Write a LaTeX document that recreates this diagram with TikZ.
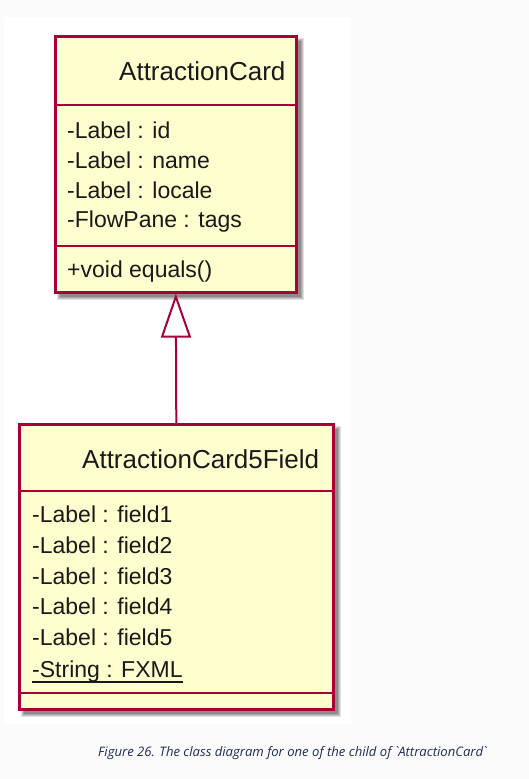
\documentclass[tikz,border=0pt]{standalone}
\usepackage{fontspec}
\setmainfont{Liberation Sans}
\newfontfamily\capfont{Open Sans}
\usetikzlibrary{arrows.meta}
\definecolor{umlborder}{HTML}{A80036}
\definecolor{umlfill}{HTML}{FEFECE}
\definecolor{pagebg}{HTML}{FBFBFB}
\definecolor{captext}{HTML}{1F2D57}
\tikzset{
  classbox/.style={draw=umlborder, fill=umlfill, line width=2.6pt, anchor=north west, inner sep=0pt},
  sepline/.style={draw=umlborder, line width=2pt},
  titletext/.style={anchor=base west, inner sep=0pt, font=\fontsize{26}{30}\selectfont, text=black!90},
  membertext/.style={anchor=base west, inner sep=0pt, font=\fontsize{23}{27}\selectfont, text=black!90},
  inherit/.style={draw=umlborder, line width=2pt, -{Triangle[open, length=44pt, width=30pt, line width=2pt]}},
}
\newcommand{\boxshadow}[4]{%
  \foreach \d/\o in {3/0.12,2/0.12,1/0.14,0/0.16}{
    \fill[black, opacity=\o] (#1+6-\d,#2+6-\d) rectangle (#3+6+\d,#4+6+\d);
  }%
}
\begin{document}
\begin{tikzpicture}[x=1pt,y=-1pt]
\fill[pagebg] (0,0) rectangle (529,779);
\useasboundingbox (0,0) rectangle (529,779);
\fill[white] (4,17) rectangle (351,724);

% shadows
\boxshadow{54}{35}{295}{291}
\boxshadow{18}{423}{332}{708}

% AttractionCard
\node[classbox, minimum width=241pt, minimum height=256pt] (ac) at (54,35) {};
\draw[sepline] (ac.west |- 0,105) coordinate (acs1) -- (ac.east |- 0,105);
\draw[sepline] (ac.west |- 0,246) coordinate (acs2) -- (ac.east |- 0,246);
\node[titletext] (actitle) at (119,80) {AttractionCard};
\node[membertext] (ac1) at (67,138) {-Label : id};
\node[membertext] (ac2) at (67,168) {-Label : name};
\node[membertext] (ac3) at (67,198) {-Label : locale};
\node[membertext] (ac4) at (67,227) {-FlowPane : tags};
\node[membertext] (ac5) at (67,277) {+void equals()};

% AttractionCard5Field
\node[classbox, minimum width=314pt, minimum height=285pt] (acf) at (18,423) {};
\draw[sepline] (acf.west |- 0,491) -- (acf.east |- 0,491);
\draw[sepline] (acf.west |- 0,693) -- (acf.east |- 0,693);
\node[titletext] (acftitle) at (82,468) {AttractionCard5Field};
\node[membertext] (f1) at (32,522) {-Label : field1};
\node[membertext] (f2) at (32,553) {-Label : field2};
\node[membertext] (f3) at (32,584) {-Label : field3};
\node[membertext] (f4) at (32,614) {-Label : field4};
\node[membertext] (f5) at (32,645) {-Label : field5};
\node[membertext] (fxml) at (32,677) {-String : FXML};
\draw[line width=1.4pt, black!90] ([yshift=-5pt]fxml.base west) -- ([yshift=-5pt]fxml.base east);

% generalization
\draw[inherit] (acf.north) -- (ac.south);

% caption
\node[anchor=base west, inner sep=0pt, text=captext, font=\capfont\itshape\fontsize{13.1}{16}\selectfont] (cap) at (98,756) {Figure 26. The class diagram for one of the child of `AttractionCard`};
\end{tikzpicture}
\end{document}
